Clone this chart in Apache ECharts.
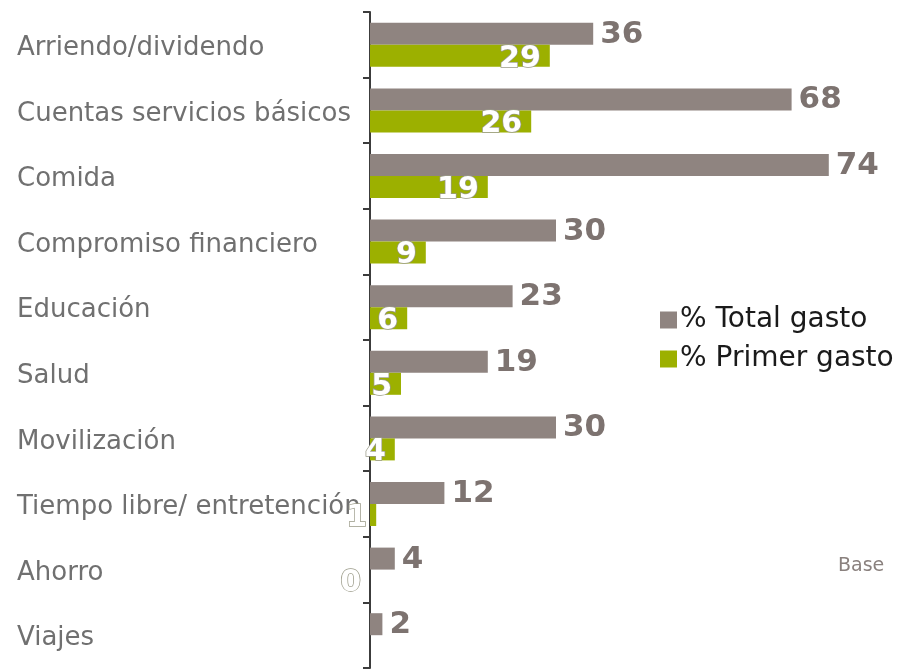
<!DOCTYPE html>
<html>
<head>
<meta charset="utf-8">
<script src="https://cdn.jsdelivr.net/npm/echarts@6/dist/echarts.min.js"></script>
<style>
  html, body { margin: 0; padding: 0; background: #fff; }
  #chart { width: 902px; height: 670px; }
</style>
</head>
<body>
<div id="chart"></div>
<script>
const categories = [
  'Arriendo/dividendo',
  'Cuentas servicios básicos',
  'Comida',
  'Compromiso financiero',
  'Educación',
  'Salud',
  'Movilización',
  'Tiempo libre/ entretención',
  'Ahorro',
  'Viajes'
]
const totalGasto = [36, 68, 74, 30, 23, 19, 30, 12, 4, 2]
const primerGasto = [29, 26, 19, 9, 6, 5, 4, 1, 0, null]
const seriesNames = ['% Total gasto', '% Primer gasto']

const grayColor = '#8f8480'
const greenColor = '#9cb000'
const font = 'DejaVu Sans'

const chart = echarts.init(document.getElementById('chart'))
chart.setOption({
  animation: false,
  grid: {
    left: 370,
    right: 5,
    top: 12,
    bottom: 2
  },
  legend: {
    orient: 'vertical',
    left: 655,
    top: 301,
    itemWidth: 17,
    itemHeight: 17,
    itemGap: 11,
    icon: 'rect',
    data: seriesNames,
    textStyle: {
      fontFamily: font,
      fontSize: 28,
      color: '#1a1a1a',
      padding: [0, 0, 0, -2]
    }
  },
  xAxis: {
    type: 'value',
    min: 0,
    max: 85,
    show: false
  },
  yAxis: {
    type: 'category',
    inverse: true,
    data: categories,
    axisLine: { show: true, lineStyle: { color: '#3c3c3c', width: 2 } },
    axisTick: { show: true, length: 7, lineStyle: { color: '#3c3c3c', width: 2 } },
    axisLabel: {
      align: 'left',
      margin: 353,
      formatter: v => '{a|' + v + '}',
      rich: {
        a: {
          fontFamily: font,
          fontSize: 26,
          color: '#707070',
          padding: [7, 0, 0, 0]
        }
      }
    }
  },
  graphic: [{
    type: 'text',
    left: 838,
    top: 557,
    style: {
      text: 'Base',
      fontFamily: font,
      fontSize: 19,
      fill: '#8a817e'
    }
  }],
  series: [
    {
      name: seriesNames[0],
      type: 'bar',
      data: totalGasto,
      barWidth: 22,
      barGap: '0%',
      itemStyle: { color: grayColor },
      label: {
        show: true,
        position: 'right',
        distance: 7,
        offset: [0, 1],
        fontFamily: font,
        fontWeight: 'bold',
        fontSize: 31,
        color: '#7d7370'
      }
    },
    {
      name: seriesNames[1],
      type: 'bar',
      data: primerGasto,
      barWidth: 22,
      barGap: '0%',
      itemStyle: { color: greenColor },
      label: {
        show: true,
        position: 'insideRight',
        distance: 0,
        offset: [-9, 3],
        fontFamily: font,
        fontWeight: 'bold',
        fontSize: 30,
        color: '#ffffff',
        textBorderColor: '#9a9a88',
        textBorderWidth: 1.5,
        formatter: p => (p.value == null ? '' : p.value)
      }
    }
  ]
})
</script>
</body>
</html>
